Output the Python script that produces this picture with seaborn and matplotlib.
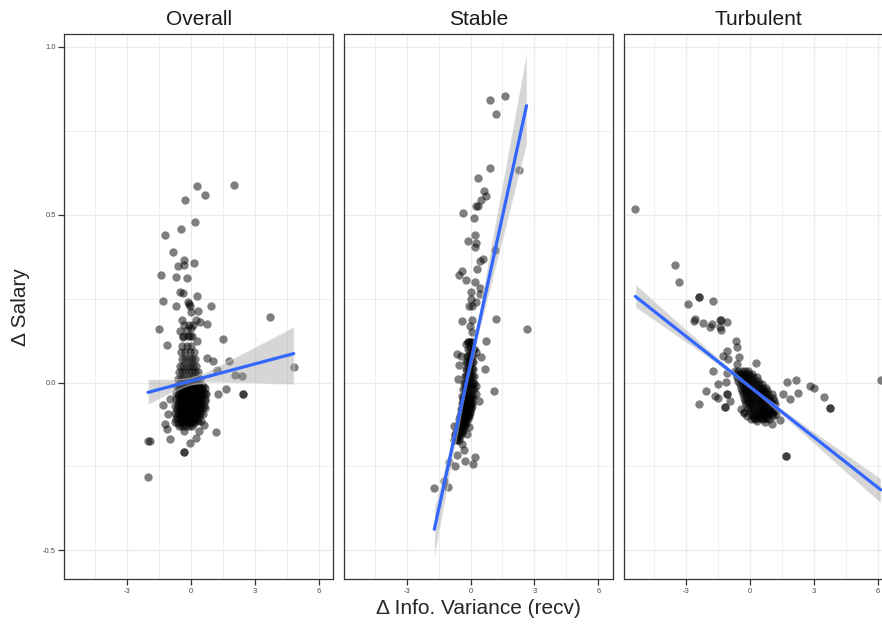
import numpy as np
import pandas as pd
import matplotlib
matplotlib.use("Agg")
import matplotlib.pyplot as plt
from matplotlib.collections import PolyCollection
import seaborn as sns

panel_names = ["Overall", "Stable", "Turbulent"]
x_ticks = [-3, 0, 3, 6]
x_tick_labels = ["-3", "0", "3", "6"]
x_minor = [-4.5, -1.5, 1.5, 4.5]
y_ticks = [-0.5, 0.0, 0.5, 1.0]
y_tick_labels = ["-0.5", "0.0", "0.5", "1.0"]
y_minor = [-0.25, 0.25, 0.75]

# Overall: scattered points
overall_pts = [
    (0.27, 0.584), (2.03, 0.589), (-0.27, 0.544), (0.66, 0.557), (0.19, 0.478),
    (-0.47, 0.458), (-1.23, 0.44), (-0.83, 0.39), (-0.31, 0.365), (-0.6, 0.348),
    (-0.33, 0.351), (0.16, 0.355), (-1.42, 0.321), (-0.69, 0.313), (-0.17, 0.312),
    (-0.49, 0.269), (-0.39, 0.266), (0.31, 0.259), (-1.29, 0.242), (-0.71, 0.227),
    (-0.11, 0.239), (-0.1, 0.235), (-0.05, 0.228), (0.94, 0.227), (0.0, 0.209),
    (0.35, 0.212), (-0.41, 0.185), (0.25, 0.185), (0.41, 0.18), (0.74, 0.175),
    (-1.51, 0.159), (-0.52, 0.153), (-0.2, 0.157), (0.0, 0.163), (-0.38, 0.135),
    (-0.05, 0.14), (0.31, 0.125), (-1.12, 0.113), (1.52, 0.129), (3.71, 0.194),
    (4.83, 0.046), (2.45, -0.033), (2.45, -0.033), (1.79, 0.063), (1.64, -0.019),
    (1.29, -0.034), (2.08, 0.021), (2.39, 0.018), (1.02, 0.063), (1.24, 0.036),
    (0.75, 0.073), (-1.3, -0.068), (-0.96, -0.048), (-2.01, -0.173), (-1.93, -0.173),
    (-1.99, -0.28), (-0.33, -0.208), (-0.33, -0.208), (-0.05, -0.18), (0.25, -0.165),
    (-0.99, -0.169), (1.18, -0.146), (0.61, -0.126), (0.39, -0.143), (-1.12, -0.138),
    (-1.19, -0.125), (-0.75, -0.118), (-0.33, -0.143), (-1.07, -0.093),
]
# Overall: dense cluster near the origin (overplotted points)
overall_core = [
    (-0.3, 0.17), (-0.1, 0.17), (0.1, 0.17),
    (-0.35, 0.14), (-0.15, 0.14), (0.05, 0.14),
    (-0.4, 0.11), (-0.2, 0.11), (0.0, 0.11),
    (-0.45, 0.09), (-0.25, 0.09), (-0.05, 0.09), (0.15, 0.09),
    (-0.4, 0.07), (-0.25, 0.07), (-0.1, 0.07), (0.05, 0.07), (0.2, 0.07),
    (-0.5, 0.05), (-0.35, 0.05), (-0.2, 0.05), (-0.05, 0.05), (0.1, 0.05), (0.25, 0.05),
    (-0.55, 0.03), (-0.4, 0.03), (-0.25, 0.03), (-0.1, 0.03), (0.05, 0.03), (0.2, 0.03), (0.35, 0.03),
    (-0.6, 0.01), (-0.45, 0.01), (-0.3, 0.01), (-0.15, 0.01), (0.0, 0.01), (0.15, 0.01), (0.3, 0.01), (0.45, 0.01),
    (-0.65, -0.01), (-0.5, -0.01), (-0.35, -0.01), (-0.2, -0.01), (-0.05, -0.01), (0.1, -0.01), (0.25, -0.01), (0.4, -0.01), (0.55, -0.01),
    (-0.55, -0.02), (-0.4, -0.02), (-0.25, -0.02), (-0.1, -0.02), (0.05, -0.02), (0.2, -0.02), (0.35, -0.02), (0.5, -0.02),
    (-0.7, -0.03), (-0.55, -0.03), (-0.4, -0.03), (-0.25, -0.03), (-0.1, -0.03), (0.05, -0.03), (0.2, -0.03), (0.35, -0.03), (0.5, -0.03), (0.65, -0.03),
    (-0.6, -0.04), (-0.45, -0.04), (-0.3, -0.04), (-0.15, -0.04), (0.0, -0.04), (0.15, -0.04), (0.3, -0.04), (0.45, -0.04),
    (-0.7, -0.05), (-0.55, -0.05), (-0.4, -0.05), (-0.25, -0.05), (-0.1, -0.05), (0.05, -0.05), (0.2, -0.05), (0.35, -0.05), (0.5, -0.05), (0.65, -0.05),
    (-0.6, -0.06), (-0.45, -0.06), (-0.3, -0.06), (-0.15, -0.06), (0.0, -0.06), (0.15, -0.06), (0.3, -0.06), (0.45, -0.06),
    (-0.75, -0.07), (-0.6, -0.07), (-0.45, -0.07), (-0.3, -0.07), (-0.15, -0.07), (0.0, -0.07), (0.15, -0.07), (0.3, -0.07), (0.45, -0.07), (0.6, -0.07),
    (-0.65, -0.08), (-0.5, -0.08), (-0.35, -0.08), (-0.2, -0.08), (-0.05, -0.08), (0.1, -0.08), (0.25, -0.08), (0.4, -0.08),
    (-0.75, -0.09), (-0.6, -0.09), (-0.45, -0.09), (-0.3, -0.09), (-0.15, -0.09), (0.0, -0.09), (0.15, -0.09), (0.3, -0.09), (0.45, -0.09),
    (-0.65, -0.10), (-0.5, -0.10), (-0.35, -0.10), (-0.2, -0.10), (-0.05, -0.10), (0.1, -0.10), (0.25, -0.10),
    (-0.7, -0.11), (-0.55, -0.11), (-0.4, -0.11), (-0.25, -0.11), (-0.1, -0.11), (0.05, -0.11), (0.2, -0.11), (0.35, -0.11),
    (-0.6, -0.12), (-0.45, -0.12), (-0.3, -0.12), (-0.15, -0.12), (0.0, -0.12), (0.15, -0.12),
    (-0.55, -0.13), (-0.4, -0.13), (-0.25, -0.13), (-0.1, -0.13), (0.05, -0.13),
    (-0.38, -0.015), (-0.23, -0.015), (-0.08, -0.015), (0.07, -0.015), (0.22, -0.015), (0.37, -0.015), (0.52, -0.015), (0.67, -0.015),
    (-0.48, -0.035), (-0.33, -0.035), (-0.18, -0.035), (-0.03, -0.035), (0.12, -0.035), (0.27, -0.035), (0.42, -0.035), (0.57, -0.035), (0.72, -0.035),
    (-0.53, -0.055), (-0.38, -0.055), (-0.23, -0.055), (-0.08, -0.055), (0.07, -0.055), (0.22, -0.055), (0.37, -0.055), (0.52, -0.055), (0.67, -0.055),
    (-0.53, -0.075), (-0.38, -0.075), (-0.23, -0.075), (-0.08, -0.075), (0.07, -0.075), (0.22, -0.075), (0.37, -0.075), (0.52, -0.075), (0.67, -0.075),
    (-0.48, -0.095), (-0.33, -0.095), (-0.18, -0.095), (-0.03, -0.095), (0.12, -0.095), (0.27, -0.095), (0.42, -0.095), (0.57, -0.095),
    (-0.43, -0.115), (-0.28, -0.115), (-0.13, -0.115), (0.02, -0.115), (0.17, -0.115), (0.32, -0.115), (0.47, -0.115),
]

# Stable: scattered points
stable_pts = [
    (0.91, 0.842), (1.62, 0.853), (1.21, 0.80), (0.9, 0.639), (2.3, 0.634),
    (0.36, 0.608), (0.63, 0.571), (0.71, 0.554), (0.47, 0.544), (0.35, 0.527),
    (0.24, 0.527), (-0.33, 0.506), (0.16, 0.489), (0.19, 0.44), (-0.11, 0.42),
    (0.25, 0.416), (0.2, 0.403), (1.15, 0.395), (0.6, 0.368), (0.44, 0.361),
    (0.31, 0.338), (-0.39, 0.331), (-0.55, 0.32), (-0.22, 0.306), (0.2, 0.299),
    (0.46, 0.282), (0.0, 0.269), (0.44, 0.264), (0.0, 0.249), (0.28, 0.239),
    (-0.08, 0.229), (0.08, 0.229), (1.18, 0.19), (2.63, 0.158), (-0.42, 0.183),
    (0.05, 0.185), (-0.03, 0.169), (0.08, 0.15), (0.75, 0.123), (-0.19, 0.115),
    (-0.1, 0.12), (-0.63, 0.085), (-0.47, 0.08), (0.24, 0.09), (0.5, 0.075),
    (-0.52, 0.051), (0.68, 0.041), (-0.6, 0.011), (1.1, -0.024), (0.39, -0.054),
    (0.28, -0.009), (0.24, -0.034), (-0.79, -0.128), (-0.71, -0.153), (-0.08, -0.133),
    (-0.16, -0.153), (-0.39, -0.183), (-0.31, -0.202), (-0.63, -0.217), (-0.24, -0.234),
    (0.13, -0.242), (0.22, -0.222), (-1.02, -0.237), (-0.75, -0.25), (-1.26, -0.292),
    (-1.07, -0.311), (-1.7, -0.313),
]
stable_core = [
    (-0.11, 0.12), (-0.04, 0.12), (0.02, 0.12), (0.09, 0.12),
    (-0.11, 0.10), (-0.04, 0.10), (0.03, 0.10), (0.1, 0.10), (0.17, 0.10),
    (-0.17, 0.08), (-0.1, 0.08), (-0.03, 0.08), (0.04, 0.08), (0.11, 0.08),
    (-0.22, 0.06), (-0.15, 0.06), (-0.08, 0.06), (-0.01, 0.06), (0.06, 0.06), (0.13, 0.06),
    (-0.23, 0.04), (-0.16, 0.04), (-0.09, 0.04), (-0.02, 0.04), (0.05, 0.04), (0.12, 0.04),
    (-0.27, 0.02), (-0.2, 0.02), (-0.13, 0.02), (-0.06, 0.02), (0.01, 0.02), (0.08, 0.02), (0.15, 0.02),
    (-0.32, 0.0), (-0.25, 0.0), (-0.18, 0.0), (-0.11, 0.0), (-0.04, 0.0), (0.03, 0.0), (0.1, 0.0), (0.17, 0.0),
    (-0.33, -0.02), (-0.26, -0.02), (-0.19, -0.02), (-0.12, -0.02), (-0.05, -0.02), (0.02, -0.02), (0.09, -0.02), (0.16, -0.02),
    (-0.39, -0.04), (-0.32, -0.04), (-0.25, -0.04), (-0.18, -0.04), (-0.11, -0.04), (-0.04, -0.04), (0.03, -0.04), (0.1, -0.04),
    (-0.36, -0.05), (-0.29, -0.05), (-0.22, -0.05), (-0.15, -0.05), (-0.08, -0.05), (-0.01, -0.05), (0.06, -0.05),
    (-0.4, -0.06), (-0.33, -0.06), (-0.26, -0.06), (-0.19, -0.06), (-0.12, -0.06), (-0.05, -0.06), (0.02, -0.06), (0.09, -0.06),
    (-0.37, -0.07), (-0.3, -0.07), (-0.23, -0.07), (-0.16, -0.07), (-0.09, -0.07), (-0.02, -0.07), (0.05, -0.07),
    (-0.46, -0.08), (-0.39, -0.08), (-0.32, -0.08), (-0.25, -0.08), (-0.18, -0.08), (-0.11, -0.08), (-0.04, -0.08), (0.03, -0.08),
    (-0.43, -0.09), (-0.36, -0.09), (-0.29, -0.09), (-0.22, -0.09), (-0.15, -0.09), (-0.08, -0.09), (-0.01, -0.09),
    (-0.48, -0.10), (-0.41, -0.10), (-0.34, -0.10), (-0.27, -0.10), (-0.2, -0.10), (-0.13, -0.10), (-0.06, -0.10),
    (-0.54, -0.11), (-0.47, -0.11), (-0.4, -0.11), (-0.33, -0.11), (-0.26, -0.11), (-0.19, -0.11), (-0.12, -0.11),
    (-0.55, -0.12), (-0.48, -0.12), (-0.41, -0.12), (-0.34, -0.12), (-0.27, -0.12), (-0.2, -0.12),
    (-0.61, -0.13), (-0.54, -0.13), (-0.47, -0.13), (-0.4, -0.13), (-0.33, -0.13), (-0.26, -0.13),
    (-0.63, -0.14), (-0.56, -0.14), (-0.49, -0.14), (-0.42, -0.14), (-0.35, -0.14),
    (-0.69, -0.15), (-0.62, -0.15), (-0.55, -0.15), (-0.48, -0.15), (-0.41, -0.15),
    (-0.71, -0.16), (-0.64, -0.16), (-0.57, -0.16), (-0.5, -0.16),
    (-0.77, -0.17), (-0.7, -0.17), (-0.63, -0.17), (-0.56, -0.17),
]

# Turbulent: scattered points
turbulent_pts = [
    (-5.39, 0.516), (-3.55, 0.349), (-3.33, 0.298), (-2.41, 0.254), (-2.41, 0.254),
    (-2.91, 0.233), (-1.75, 0.242), (-2.59, 0.188), (-2.64, 0.182), (-2.22, 0.178),
    (-1.89, 0.165), (-1.81, 0.175), (-1.42, 0.187), (-1.07, 0.181), (-1.37, 0.157),
    (-1.38, 0.185), (-1.42, 0.165), (-0.65, 0.123), (-0.6, 0.105), (-1.1, 0.093),
    (-1.29, 0.078), (-1.04, 0.07), (-0.52, 0.075), (-0.6, 0.056), (0.27, 0.058),
    (-1.76, 0.034), (-1.1, 0.028), (-1.51, -0.004), (-1.13, 0.001), (-2.09, -0.026),
    (-2.41, -0.063), (-1.65, -0.039), (-1.49, -0.046), (-1.1, -0.034), (-1.1, -0.034),
    (-1.18, -0.073), (-1.18, -0.073), (-0.94, -0.054), (1.73, 0.001), (2.17, 0.009),
    (2.23, -0.032), (2.83, -0.009), (2.99, -0.016), (3.46, -0.042), (3.74, -0.076),
    (3.74, -0.076), (6.13, 0.009), (1.7, -0.218), (1.7, -0.218), (1.54, -0.034),
    (1.89, -0.049), (1.42, -0.113), (1.02, -0.123), (0.71, -0.118), (0.24, -0.108),
    (-0.31, -0.088),
]
turbulent_core = [
    (-0.7, 0.035), (-0.55, 0.035), (-0.4, 0.035), (-0.25, 0.035), (-0.1, 0.035),
    (-0.65, 0.025), (-0.5, 0.025), (-0.35, 0.025), (-0.2, 0.025), (-0.05, 0.025), (0.1, 0.025),
    (-0.6, 0.015), (-0.45, 0.015), (-0.3, 0.015), (-0.15, 0.015), (0.0, 0.015), (0.15, 0.015), (0.3, 0.015),
    (-0.55, 0.005), (-0.4, 0.005), (-0.25, 0.005), (-0.1, 0.005), (0.05, 0.005), (0.2, 0.005), (0.35, 0.005),
    (-0.5, -0.005), (-0.35, -0.005), (-0.2, -0.005), (-0.05, -0.005), (0.1, -0.005), (0.25, -0.005), (0.4, -0.005), (0.55, -0.005),
    (-0.45, -0.015), (-0.3, -0.015), (-0.15, -0.015), (0.0, -0.015), (0.15, -0.015), (0.3, -0.015), (0.45, -0.015), (0.6, -0.015), (0.75, -0.015),
    (-0.4, -0.025), (-0.25, -0.025), (-0.1, -0.025), (0.05, -0.025), (0.2, -0.025), (0.35, -0.025), (0.5, -0.025), (0.65, -0.025), (0.8, -0.025),
    (-0.35, -0.035), (-0.2, -0.035), (-0.05, -0.035), (0.1, -0.035), (0.25, -0.035), (0.4, -0.035), (0.55, -0.035), (0.7, -0.035), (0.85, -0.035), (1.0, -0.035),
    (-0.3, -0.045), (-0.15, -0.045), (0.0, -0.045), (0.15, -0.045), (0.3, -0.045), (0.45, -0.045), (0.6, -0.045), (0.75, -0.045), (0.9, -0.045), (1.05, -0.045),
    (-0.25, -0.055), (-0.1, -0.055), (0.05, -0.055), (0.2, -0.055), (0.35, -0.055), (0.5, -0.055), (0.65, -0.055), (0.8, -0.055), (0.95, -0.055), (1.1, -0.055),
    (-0.2, -0.065), (-0.05, -0.065), (0.1, -0.065), (0.25, -0.065), (0.4, -0.065), (0.55, -0.065), (0.7, -0.065), (0.85, -0.065), (1.0, -0.065), (1.15, -0.065),
    (-0.1, -0.075), (0.05, -0.075), (0.2, -0.075), (0.35, -0.075), (0.5, -0.075), (0.65, -0.075), (0.8, -0.075), (0.95, -0.075), (1.1, -0.075),
    (0.0, -0.085), (0.15, -0.085), (0.3, -0.085), (0.45, -0.085), (0.6, -0.085), (0.75, -0.085), (0.9, -0.085), (1.05, -0.085),
    (0.1, -0.095), (0.25, -0.095), (0.4, -0.095), (0.55, -0.095), (0.7, -0.095), (0.85, -0.095), (1.0, -0.095),
    (0.2, -0.105), (0.35, -0.105), (0.5, -0.105), (0.65, -0.105), (0.8, -0.105),
    (-0.3, -0.09), (-0.15, -0.1), (0.05, -0.11), (0.3, -0.115), (0.45, -0.1),
    (0.6, -0.11), (0.75, -0.1), (0.9, -0.11), (1.05, -0.1), (1.2, -0.095),
    (-0.45, -0.08), (0.15, -0.1), (0.55, -0.085), (0.95, -0.09), (1.15, -0.085),
]

panel_data = {
    "Overall": overall_pts + overall_core,
    "Stable": stable_pts + stable_core,
    "Turbulent": turbulent_pts + turbulent_core,
}
# width of the grey band around each fit
band_ci = {"Overall": 78, "Stable": 68, "Turbulent": 45}

sns.set_style("white")
plt.rcParams["font.family"] = ["Liberation Sans", "DejaVu Sans"]

fig = plt.figure(figsize=(8.82, 6.3), dpi=100)
lefts = [64.3, 344.0, 623.7]

for i, name in enumerate(panel_names):
    ax = fig.add_axes([lefts[i] / 882, 50.7 / 630, 269 / 882, 545 / 630])
    df = pd.DataFrame(panel_data[name], columns=["x", "y"])
    sns.regplot(data=df, x="x", y="y", ax=ax, ci=band_ci[name], seed=3,
                scatter_kws=dict(s=36, color="black", alpha=0.5, linewidths=0),
                line_kws=dict(color="#3366FF", lw=2.3))
    # ggplot-style grey ribbon under a blue line
    for coll in ax.collections:
        if isinstance(coll, PolyCollection):
            coll.set_facecolor("#999999")
            coll.set_alpha(0.4)

    ax.set_xlim(-5.94, 6.69)
    ax.set_ylim(-0.586, 1.037)
    ax.set_xticks(x_ticks)
    ax.set_xticklabels(x_tick_labels)
    ax.set_xticks(x_minor, minor=True)
    ax.set_yticks(y_ticks)
    ax.set_yticks(y_minor, minor=True)
    if i == 0:
        ax.set_yticklabels(y_tick_labels)
        ax.tick_params(axis="y", which="major", left=True, length=4, width=0.9,
                       color="#333333", labelsize=5.5, labelcolor="#4d4d4d", pad=2)
    else:
        ax.tick_params(axis="y", which="major", left=False, labelleft=False)
    ax.tick_params(axis="x", which="major", bottom=True, length=4, width=0.9,
                   color="#333333", labelsize=5.5, labelcolor="#4d4d4d", pad=2)
    ax.tick_params(which="minor", length=0)
    ax.grid(which="major", color="#ebebeb", lw=0.9)
    ax.grid(which="minor", color="#ebebeb", lw=0.6)
    ax.set_axisbelow(True)
    for sp in ax.spines.values():
        sp.set_visible(True)
        sp.set_color("#333333")
        sp.set_linewidth(0.9)
    ax.set_xlabel("")
    ax.set_ylabel("")
    ax.set_title(name, fontsize=15, color="#1a1a1a", pad=7)

fig.text(21 / 882, 1 - 306.8 / 630, "Δ Salary", rotation=90, fontsize=15,
         ha="center", va="center")
fig.text(478.9 / 882, 1 - 608 / 630, "Δ Info. Variance (recv)", fontsize=15,
         ha="center", va="center")

fig.savefig("out.png", dpi=100)
